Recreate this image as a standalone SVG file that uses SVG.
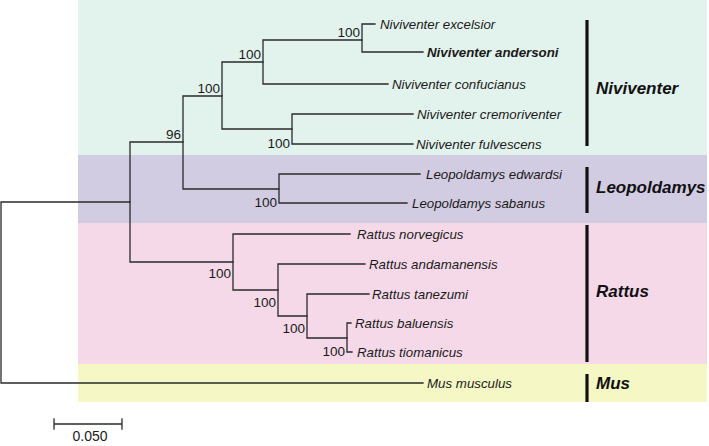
<svg xmlns="http://www.w3.org/2000/svg" width="709" height="446" viewBox="0 0 709 446">
<style>
.br{fill:none;stroke:#2a2a2a;stroke-width:1.3;stroke-linecap:square}
.sp{font-family:"Liberation Sans",Arial,sans-serif;font-style:italic;font-size:13.3px;fill:#1a1a1a}
.bs{font-family:"Liberation Sans",Arial,sans-serif;font-size:13.5px;fill:#1a1a1a;text-anchor:end}
.cl{font-family:"Liberation Sans",Arial,sans-serif;font-style:italic;font-weight:bold;font-size:17px;fill:#111}
.bar{stroke:#111;stroke-width:3.2}
</style>
<rect width="709" height="446" fill="#ffffff"/>
<g id="bands">
<rect x="78" y="0" width="629" height="155" fill="#e2f3ed"/>
<rect x="78" y="155" width="629" height="68" fill="#d2cce2"/>
<rect x="78" y="223" width="629" height="141" fill="#f5d9e8"/>
<rect x="78" y="364" width="629" height="38" fill="#f5f8c4"/>
</g>
<g id="connectors">
<path class="br" d="M1,202 H130 M1,202 V383 H423"/>
<path class="br" d="M130,142 V262 M130,142 H183 M130,262 H233"/>
<path class="br" d="M183,96 V189 M183,96 H222 M183,189 H279"/>
<path class="br" d="M222,62 V129 M222,62 H263 M222,129 H292"/>
<path class="br" d="M263,40 V84 M263,40 H362 M263,84 H388"/>
<path class="br" d="M362,24 V52 M362,24 H375 M362,52 H423"/>
<path class="br" d="M292,114 V144 M292,114 H413 M292,144 H413"/>
<path class="br" d="M279,174 V203 M279,174 H420 M279,203 H407"/>
<path class="br" d="M233,234 V290 M233,234 H350 M233,290 H278"/>
<path class="br" d="M278,264 V316 M278,264 H365 M278,316 H307"/>
<path class="br" d="M307,294 V338 M307,294 H369 M307,338 H347"/>
<path class="br" d="M347,323 V352 M347,323 H351 M347,352 H352"/>
</g>
<g id="bootstrap">
<text class="bs" x="181" y="139">96</text>
<text class="bs" x="220" y="93">100</text>
<text class="bs" x="261" y="59">100</text>
<text class="bs" x="360" y="37">100</text>
<text class="bs" x="290" y="148">100</text>
<text class="bs" x="277" y="207">100</text>
<text class="bs" x="231" y="278">100</text>
<text class="bs" x="276" y="307">100</text>
<text class="bs" x="305" y="333">100</text>
<text class="bs" x="345" y="356">100</text>
</g>
<g id="taxa">
<text id="t1" class="sp" x="380" y="29">Niviventer excelsior</text>
<text id="t2" class="sp" x="427" y="57" font-weight="bold">Niviventer andersoni</text>
<text id="t3" class="sp" x="392" y="89">Niviventer confucianus</text>
<text id="t4" class="sp" x="417" y="119">Niviventer cremoriventer</text>
<text id="t5" class="sp" x="416" y="149">Niviventer fulvescens</text>
<text id="t6" class="sp" x="426" y="179">Leopoldamys edwardsi</text>
<text id="t7" class="sp" x="412" y="208">Leopoldamys sabanus</text>
<text id="t8" class="sp" x="357" y="239">Rattus norvegicus</text>
<text id="t9" class="sp" x="369" y="269">Rattus andamanensis</text>
<text id="t10" class="sp" x="372" y="299">Rattus tanezumi</text>
<text id="t11" class="sp" x="355" y="328">Rattus baluensis</text>
<text id="t12" class="sp" x="357" y="357">Rattus tiomanicus</text>
<text id="t13" class="sp" x="427" y="388">Mus musculus</text>
</g>
<g id="clade-niviventer">
<line class="bar" x1="587" y1="20" x2="587" y2="146"/>
<text class="cl" x="596" y="94">Niviventer</text>
</g>
<g id="clade-leopoldamys">
<line class="bar" x1="587" y1="167" x2="587" y2="213"/>
<text class="cl" x="596" y="193">Leopoldamys</text>
</g>
<g id="clade-rattus">
<line class="bar" x1="587" y1="225" x2="587" y2="362"/>
<text class="cl" x="596" y="297">Rattus</text>
</g>
<g id="clade-mus">
<line class="bar" x1="587" y1="374" x2="587" y2="402"/>
<text class="cl" x="596" y="389">Mus</text>
</g>
<g id="scale">
<path class="br" d="M54,424 H122 M54,419 V429 M122,419 V429"/>
<text x="90" y="441" font-family="Liberation Sans, Arial, sans-serif" font-size="14" fill="#1a1a1a" text-anchor="middle">0.050</text>
</g>
</svg>
